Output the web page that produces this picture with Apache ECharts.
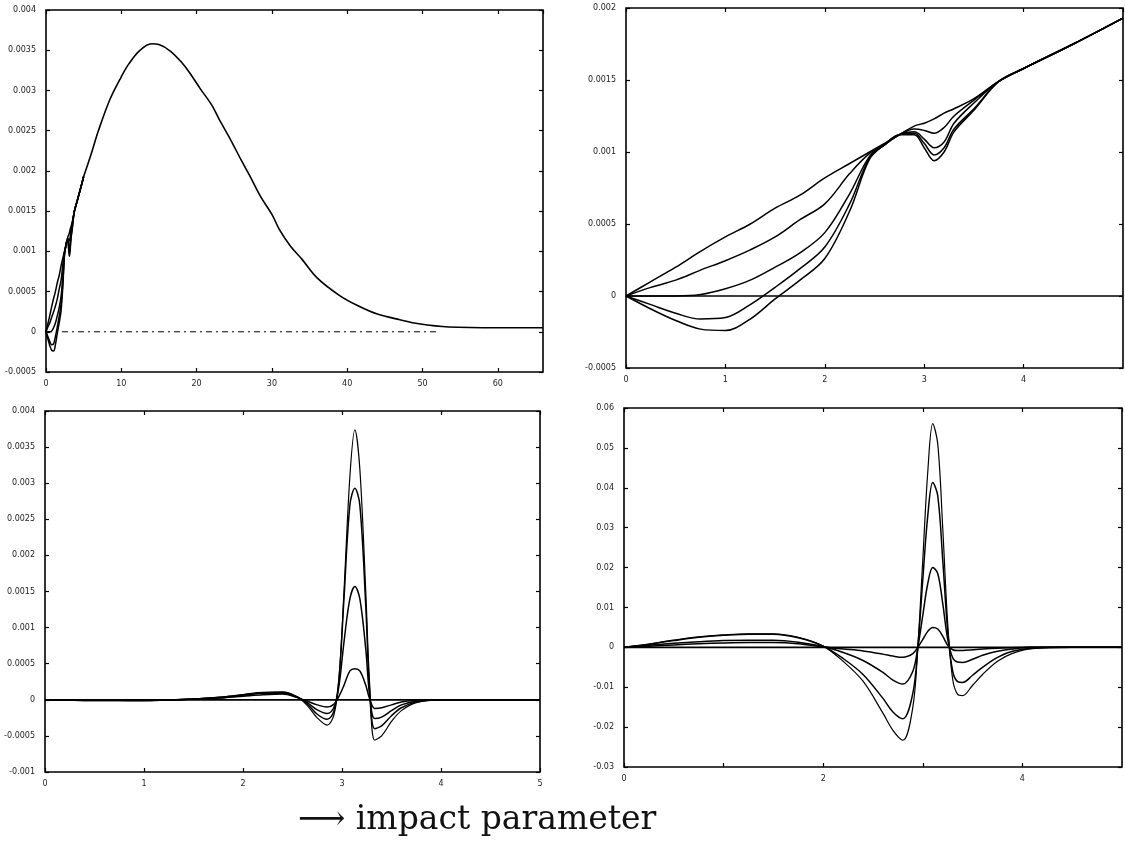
<!DOCTYPE html>
<html>
<head>
<meta charset="utf-8">
<script src="https://cdn.jsdelivr.net/npm/echarts@6/dist/echarts.min.js"></script>
<style>
html,body{margin:0;padding:0;background:#fff;}
#chart{width:1125px;height:852px;}
</style>
</head>
<body>
<div id="chart"></div>
<script>
// ---------- Top-right panel (also inset of top-left, x in 0..5) ----------
var xTR = [0,0.25,0.5,0.75,1,1.25,1.5,1.75,2,2.25,2.45,2.6,2.75,2.9,3,3.1,3.2,3.3,3.5,3.75,4,4.5,5];
var trA = [0,0.0001,0.0002,0.00031,0.00041,0.0005,0.00061,0.0007,0.00082,0.00092,0.001,0.00106,0.00112,0.00118,0.0012,0.00123,0.00127,0.0013,0.00137,0.00149,0.00158,0.00175,0.00193];
var trB = [0,0.00006,0.00011,0.00018,0.000245,0.00032,0.00041,0.00053,0.00064,0.00085,0.00099,0.00105,0.00112,0.00116,0.00115,0.00113,0.00117,0.00125,0.00136,0.00149,0.00158,0.00175,0.00193];
var trC = [0,0,0,0.00001,0.00005,0.00011,0.0002,0.0003,0.00044,0.00071,0.00097,0.00105,0.00112,0.00114,0.00109,0.00103,0.00107,0.0012,0.00134,0.00149,0.00158,0.00175,0.00193];
var trD = [0,-0.00006,-0.00012,-0.00016,-0.00015,-0.00006,0.00006,0.00019,0.00034,0.00064,0.00096,0.00105,0.00112,0.00113,0.00106,0.00098,0.00103,0.00116,0.0013,0.00149,0.00158,0.00175,0.00193];
var trE = [0,-0.00009,-0.00017,-0.00023,-0.00024,-0.00016,-0.00002,0.00011,0.00026,0.00059,0.00095,0.00105,0.00112,0.00112,0.00103,0.00094,0.001,0.00114,0.00129,0.00149,0.00158,0.00175,0.00193];
var trZero = [0,0,0,0,0,0,0,0,0,0,0,0,0,0,0,0,0,0,0,0,0,0,0];

// ---------- Top-left panel: shared tail for x >= 5 ----------
var xTL = [5,6,7,8.5,10,11,12.5,14,15,16.5,18,19,20.5,22,23,24.5,26,27,28.5,30,31,32.5,34,36,39,41.5,44,47,49.5,53.5,60,66];
var tlMain = [0.00193,0.00221,0.00251,0.00289,0.00317,0.00333,0.0035,0.00358,0.00357,0.00349,0.00335,0.00323,0.00302,0.00282,0.00264,0.00239,0.00212,0.00195,0.00168,0.00146,0.00127,0.00106,0.0009,0.00067,0.00045,0.00032,0.00022,0.00015,0.0001,0.00006,0.00005,0.00005];
var xTLzero = [0,52];
var tlZero = [0,0];

// ---------- Bottom-left panel ----------
var xBL = [0,0.5,1,1.5,1.8,2.0,2.2,2.4,2.55,2.65,2.75,2.85,2.92,2.97,3.02,3.08,3.13,3.18,3.24,3.28,3.33,3.4,3.5,3.6,3.75,4,4.5,5];
var bl4 = [0,-0.00001,-0.00001,0.00001,0.00004,0.00007,0.0001,0.00011,0.00004,-0.00008,-0.00025,-0.00035,-0.0002,0.0003,0.0015,0.0031,0.00374,0.0032,0.0015,0.0002,-0.00056,-0.0005,-0.0003,-0.00015,-0.00004,0,0,0];
var bl3 = [0,-0.00001,-0.00001,0.00001,0.00004,0.00007,0.0001,0.0001,0.00004,-0.00006,-0.0002,-0.00027,-0.00015,0.0003,0.0014,0.0027,0.00293,0.0027,0.0013,0.0001,-0.0004,-0.00036,-0.00022,-0.00011,-0.00003,0,0,0];
var bl2 = [0,-0.00001,-0.00001,0.00001,0.00003,0.00006,0.00009,0.00009,0.00003,-0.00004,-0.00014,-0.00019,-0.0001,0.0002,0.0008,0.0014,0.00157,0.0014,0.0007,0.00005,-0.00026,-0.00024,-0.00015,-0.00007,-0.00002,0,0,0];
var bl1 = [0,0,-0.00001,0.00001,0.00003,0.00005,0.00007,0.00008,0.00003,-0.00002,-0.00007,-0.0001,-0.00006,0.00005,0.0002,0.0004,0.00043,0.0004,0.0002,0.00001,-0.00012,-0.00011,-0.00007,-0.00003,-0.00001,0,0,0];
var xBLzero = [0,5];
var blZero = [0,0];

// ---------- Bottom-right panel ----------
var xBR = [0,0.25,0.5,0.75,1.0,1.25,1.5,1.75,2.0,2.2,2.4,2.6,2.7,2.8,2.9,2.95,3.0,3.05,3.1,3.15,3.2,3.25,3.3,3.35,3.4,3.5,3.6,3.75,3.9,4.1,4.5,5];
var br4 = [0,0.0008,0.0018,0.0026,0.0031,0.0034,0.0034,0.0025,0.0003,-0.0035,-0.0085,-0.0165,-0.0208,-0.0233,-0.015,0.0,0.022,0.044,0.0561,0.051,0.03,0.006,-0.008,-0.0118,-0.0121,-0.0095,-0.0068,-0.0035,-0.0015,-0.0003,0,0];
var br3 = [0,0.0008,0.0017,0.0025,0.003,0.0033,0.0033,0.0024,0.0003,-0.0028,-0.0068,-0.0128,-0.0162,-0.0179,-0.0115,0.0,0.017,0.033,0.0413,0.038,0.022,0.004,-0.006,-0.0086,-0.0088,-0.007,-0.005,-0.0025,-0.001,-0.0002,0,0];
var br2 = [0,0.0005,0.001,0.0014,0.0017,0.0018,0.0018,0.0013,0.0002,-0.0013,-0.0033,-0.0063,-0.0082,-0.0092,-0.006,0,0.008,0.016,0.02,0.0185,0.011,0.002,-0.0026,-0.0037,-0.0038,-0.003,-0.002,-0.001,-0.0004,0,0,0];
var br1 = [0,0.0003,0.0006,0.0009,0.0011,0.0012,0.0012,0.0009,0.0001,-0.0004,-0.0009,-0.0017,-0.0022,-0.0025,-0.0016,0,0.002,0.004,0.005,0.0046,0.0028,0.0005,-0.0006,-0.0008,-0.0008,-0.0006,-0.0004,-0.0002,-0.0001,0,0,0];
var xBRzero = [0,5];
var brZero = [0,0];

var bottomTitle = '\u27F6 impact parameter';

// ---------- build ----------
function pairs(xs, ys){ return xs.map(function(x,i){ return [x, ys[i]]; }); }

var grids = [
  {left:46, top:10, width:497, height:362},
  {left:626, top:8, width:497, height:360},
  {left:45, top:411, width:495, height:361},
  {left:624, top:408, width:498, height:359}
];
var xRanges = [[0,66,10],[0,5,1],[0,5,1],[0,5,1]];
var yRanges = [[-0.0005,0.004,0.0005],[-0.0005,0.002,0.0005],[-0.001,0.004,0.0005],[-0.03,0.06,0.01]];
var showMaxX = [false, false, true, false];

var xAxes = [], yAxes = [];
grids.forEach(function(g, i){
  var xr = xRanges[i], yr = yRanges[i];
  xAxes.push({type:'value', gridIndex:i, min:xr[0], max:xr[1], interval:xr[2], position:'bottom',
    axisLine:{show:false, onZero:false}, splitLine:{show:false},
    axisTick:{inside:true, length:4, lineStyle:{color:'#000', width:1.2}},
    axisLabel:{fontSize:8, color:'#222', margin:8, showMaxLabel: showMaxX[i], fontFamily:'DejaVu Sans',
      formatter: i === 3 ? function(v){ return (v % 2 === 0) ? String(v) : ''; } : null}});
  xAxes.push({type:'value', gridIndex:i, min:xr[0], max:xr[1], interval:xr[2], position:'top',
    axisLine:{show:false, onZero:false}, splitLine:{show:false},
    axisTick:{inside:true, length:4, lineStyle:{color:'#000', width:1.2}},
    axisLabel:{show:false}});
  yAxes.push({type:'value', gridIndex:i, min:yr[0], max:yr[1], interval:yr[2], position:'left',
    axisLine:{show:false, onZero:false}, splitLine:{show:false},
    axisTick:{inside:true, length:4, lineStyle:{color:'#000', width:1.2}},
    axisLabel:{fontSize:8, color:'#222', margin:10, fontFamily:'DejaVu Sans'}});
  yAxes.push({type:'value', gridIndex:i, min:yr[0], max:yr[1], interval:yr[2], position:'right',
    axisLine:{show:false, onZero:false}, splitLine:{show:false},
    axisTick:{inside:true, length:4, lineStyle:{color:'#000', width:1.2}},
    axisLabel:{show:false}});
});

function line(panel, xs, ys, opts){
  opts = opts || {};
  return {type:'line', xAxisIndex:panel*2, yAxisIndex:panel*2, data:pairs(xs, ys),
    showSymbol:false, symbol:'none', smooth: opts.smooth === undefined ? 0.35 : opts.smooth,
    lineStyle:{color:'#000', width: opts.width || 1.5, type: opts.type || 'solid'},
    silent:true, z: opts.z || 2};
}

var series = [
  // top-left
  line(0, xTLzero, tlZero, {type:[6,4,2,4], width:1, smooth:false}),
  line(0, xTR, trA), line(0, xTR, trB), line(0, xTR, trC), line(0, xTR, trD), line(0, xTR, trE),
  line(0, xTL, tlMain, {width:1.6}),
  // top-right
  line(1, xTR, trZero, {smooth:false}),
  line(1, xTR, trA), line(1, xTR, trB), line(1, xTR, trC), line(1, xTR, trD), line(1, xTR, trE),
  // bottom-left
  line(2, xBLzero, blZero, {smooth:false, width:1.8}),
  line(2, xBL, bl1), line(2, xBL, bl2), line(2, xBL, bl3), line(2, xBL, bl4, {width:1.2}),
  // bottom-right
  line(3, xBRzero, brZero, {smooth:false, width:1.8}),
  line(3, xBR, br1), line(3, xBR, br2), line(3, xBR, br3), line(3, xBR, br4, {width:1.2})
];

var chart = echarts.init(document.getElementById('chart'), null, {renderer:'canvas'});
chart.setOption({
  animation:false,
  backgroundColor:'#fff',
  grid: grids.map(function(g){ return {left:g.left, top:g.top, width:g.width, height:g.height,
    show:true, borderColor:'#000', borderWidth:1.6, backgroundColor:'transparent', containLabel:false}; }),
  xAxis: xAxes,
  yAxis: yAxes,
  series: series,
  graphic: [{type:'text', left:298, top:804, style:{text:bottomTitle, fontSize:33,
    fontFamily:'DejaVu Serif, Liberation Serif, serif', fill:'#111'}}]
});
</script>
</body>
</html>
